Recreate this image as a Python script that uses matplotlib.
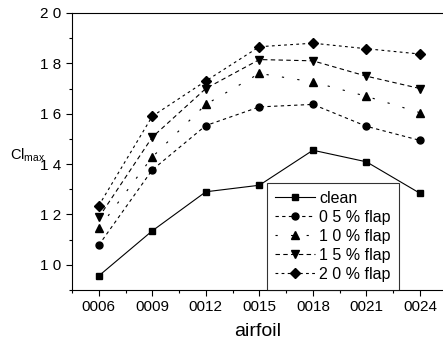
import matplotlib
matplotlib.use("Agg")
import matplotlib.pyplot as plt
from matplotlib.ticker import FixedLocator

plt.rcParams['font.family'] = ['Liberation Sans', 'DejaVu Sans']

airfoils = ['0006', '0009', '0012', '0015', '0018', '0021', '0024']
clean = [0.956, 1.135, 1.29, 1.316, 1.455, 1.409, 1.284]
flap05 = [1.078, 1.377, 1.553, 1.627, 1.637, 1.55, 1.494]
flap10 = [1.145, 1.428, 1.637, 1.76, 1.726, 1.669, 1.604]
flap15 = [1.188, 1.507, 1.70, 1.815, 1.81, 1.749, 1.70]
flap20 = [1.235, 1.59, 1.73, 1.866, 1.88, 1.858, 1.837]
yticks = [1.0, 1.2, 1.4, 1.6, 1.8, 2.0]
ytick_labels = ['1 0', '1 2', '1 4', '1 6', '1 8', '2 0']
labels = ['clean', '0 5 % flap', '1 0 % flap', '1 5 % flap', '2 0 % flap']

fig = plt.figure(figsize=(4.43, 3.45), dpi=100)
ax = fig.add_axes([0.1625, 0.1594, 0.8375, 0.803])

x = list(range(len(airfoils)))
ax.plot(x, clean, '-', color='black', lw=0.8, marker='s', ms=5, label=labels[0])
ax.plot(x, flap05, color='black', lw=0.8, ls=(0, (3, 3)), marker='o', ms=5, label=labels[1])
ax.plot(x, flap10, color='black', lw=0.8, ls=(0, (2, 12)), marker='^', ms=6, label=labels[2])
ax.plot(x, flap15, color='black', lw=0.8, ls=(0, (4, 3)), marker='v', ms=6, label=labels[3])
ax.plot(x, flap20, color='black', lw=0.8, ls=(0, (2.5, 3)), marker='D', ms=5, label=labels[4])

ax.set_xlim(-0.5, 6.43)
ax.set_ylim(0.9, 2.0)
ax.set_xticks(x)
ax.set_xticklabels(airfoils, fontsize=11)
ax.xaxis.set_minor_locator(FixedLocator([i + 0.5 for i in range(-1, 7)]))
ax.set_yticks(yticks)
ax.set_yticklabels(ytick_labels, fontsize=11)
ax.yaxis.set_minor_locator(FixedLocator([0.9, 1.1, 1.3, 1.5, 1.7, 1.9]))
ax.tick_params(which='major', direction='out', length=4, width=0.8)
ax.tick_params(which='minor', direction='out', length=2, width=0.8)
ax.spines['right'].set_visible(False)

ax.set_xlabel('airfoil', fontsize=14, labelpad=6)
fig.text(0.022, 0.55, r'Cl$_{\mathregular{max}}$', fontsize=10.5, va='center')

leg = ax.legend(loc='lower left', bbox_to_anchor=(0.525, 0.0), borderaxespad=0,
                fontsize=11.5, frameon=True, fancybox=False, edgecolor='black',
                handlelength=2.5, borderpad=0.5, labelspacing=0.25, handletextpad=0.3)
leg.get_frame().set_linewidth(0.8)

fig.savefig('out.png', dpi=100)
